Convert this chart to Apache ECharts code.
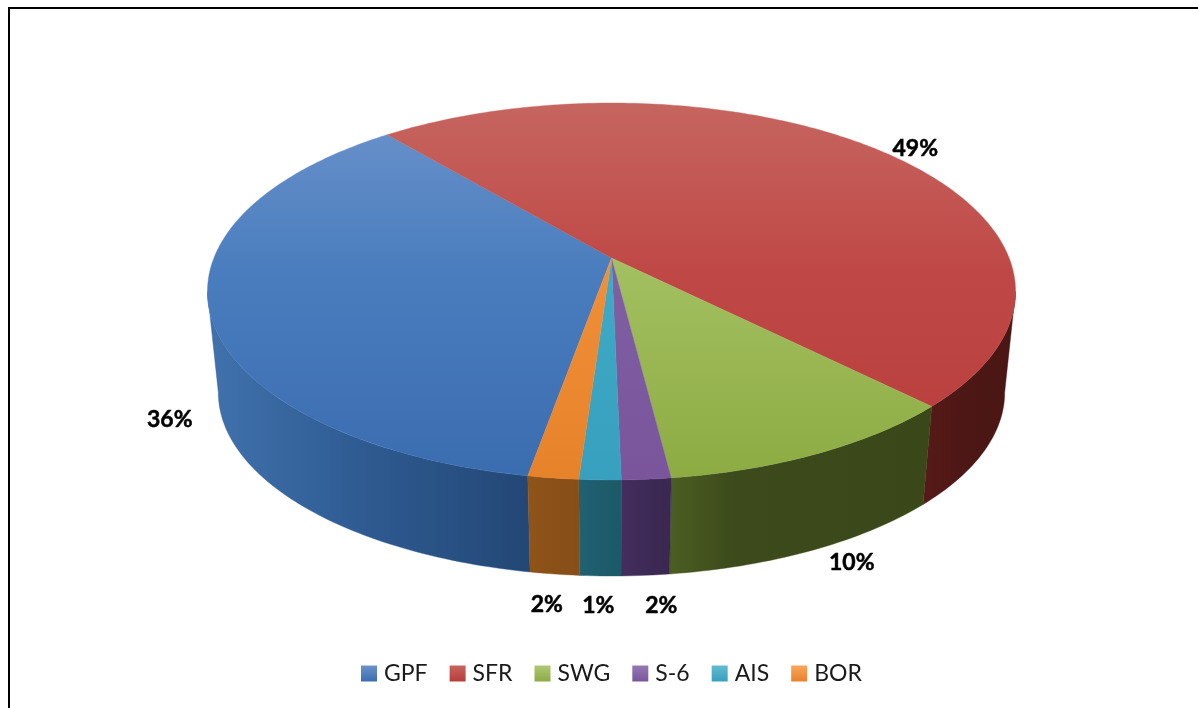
<!DOCTYPE html>
<html><head><meta charset="utf-8">
<style>html,body{margin:0;padding:0;background:#fff}#c{width:1198px;height:708px}</style>
<script src="https://cdn.jsdelivr.net/npm/echarts@6/dist/echarts.min.js"></script>
</head><body><div id="c"></div>
<script>
const categories = ['GPF','SFR','SWG','S-6','AIS','BOR'];
const shares = [36.15, 48.65, 10.45, 1.65, 1.4, 1.7];
const topColors = [
  ['#6B93CB','#4A7DBE','#3A6CB0'],
  ['#C6655F','#BF4846','#B73D3A'],
  ['#B0C878','#A2BF60','#8DAB42'],
  ['#9478B4','#7F5FA2','#7A559C'],
  ['#64BAD2','#3FA9C6','#36A0BE'],
  ['#FBA65E','#F08F38','#E6822A']
];
const wallColors = [
  ['#4172AD','#2F5C93','#234775'],
  ['#571A18','#4C1715','#4A1614'],
  ['#4C5E22','#3C4A1C','#394719'],
  ['#442E5F','#3D2A55','#3A2850'],
  ['#1F6273','#1E5C6C','#1D5868'],
  ['#8F5419','#8A5018','#874E17']
];
const wallMid = [0.45,0.45,0.25,0.5,0.5,0.5];
const firstAngle = 190, P = 0.1777;
const CX = 611.5;
const topFace = {cy: 258, A: 397.6, K: 182.5};
const baseFace = {cy: 360, A: 386.9, K: 177.6};
const labelNudge = [[-50,12],[41,0],[39,12],[16,30],[-2,30],[-8,31]];
const total = shares.reduce((a,b)=>a+b,0);
const tangent = Math.asin(P)*180/Math.PI;

function project(face, deg, r){
  const t = deg*Math.PI/180, u = r*Math.sin(t), v = -r*Math.cos(t), s = 1/(1-P*v);
  return [CX + face.A*u*s, face.cy + face.K*v*s];
}
function arc(face, a, b){
  const pts=[], n=Math.max(2,Math.ceil(Math.abs(b-a)));
  for(let i=0;i<=n;i++) pts.push(project(face, a+(b-a)*i/n, 1));
  return pts;
}
function grad(x0,y0,x1,y1,c,mid){
  return new echarts.graphic.LinearGradient(x0,y0,x1,y1,[{offset:0,color:c[0]},{offset:mid,color:c[1]},{offset:1,color:c[2]}],true);
}
function wallSpan(a,b){
  // keep only the part of [a,b] on the visible front of the disc
  const out=[];
  [0,360,-360].forEach(k=>{
    const s=Math.max(a+k,90+tangent), e=Math.min(b+k,270-tangent);
    if(e>s) out.push([s,e]);
  });
  return out;
}
let acc = firstAngle;
const series = categories.map((name,i)=>{
  const start = acc, end = acc + shares[i]/total*360; acc = end;
  return {
    type:'custom', name, coordinateSystem:'none', animation:false, silent:true,
    itemStyle:{color:new echarts.graphic.LinearGradient(0,0,0,1,[{offset:0,color:topColors[i][0]},{offset:1,color:topColors[i][2]}])},
    data:[[start,end,shares[i]]],
    renderItem:(params,api)=>{
      const a=api.value(0), b=api.value(1), v=api.value(2), children=[];
      wallSpan(a,b).forEach(sp=>{
        const pts=arc(topFace,sp[0],sp[1]).concat(arc(baseFace,sp[1],sp[0]));
        const xs=pts.map(p=>p[0]);
        const fill=grad(Math.min(...xs),0,Math.max(...xs),0,wallColors[i],wallMid[i]);
        children.push({type:'polygon',z2:1,shape:{points:pts},style:{fill,stroke:wallColors[i][1],lineWidth:0.4}});
      });
      const c=project(topFace,0,0);
      const g=grad(0,103,0,480,topColors[i],0.45);
      children.push({type:'polygon',z2:2,shape:{points:[c].concat(arc(topFace,a,b))},style:{fill:g,stroke:g,lineWidth:0.4}});
      const mid=(a+b)/2, front=Math.cos(mid*Math.PI/180)<0;
      const p=project(front?baseFace:topFace,mid,1);
      children.push({type:'text',z2:3,x:p[0]+labelNudge[i][0],y:p[1]+labelNudge[i][1],
        style:{text:(v/total*100).toFixed(0)+'%',fontFamily:'Lato',fontWeight:'bold',fontSize:23,fill:'#000',stroke:'#000',lineWidth:0.5,align:'center',verticalAlign:'middle'}});
      return {type:'group',children};
    }
  };
});
const chart=echarts.init(document.getElementById('c'),null,{renderer:'canvas'});
chart.setOption({
  backgroundColor:'#fff', animation:false,
  legend:{data:categories,left:356,top:657,icon:'rect',itemWidth:16,itemHeight:16,itemGap:22,
    textStyle:{fontFamily:'Lato',fontSize:23,color:'#1a1a1a',padding:[0,0,0,2]}},
  graphic:[{type:'polyline',z:0,silent:true,shape:{points:[[9,708],[9,8],[1198,8]]},style:{stroke:'#000',lineWidth:2,fill:null}}],
  series
});
</script></body></html>
